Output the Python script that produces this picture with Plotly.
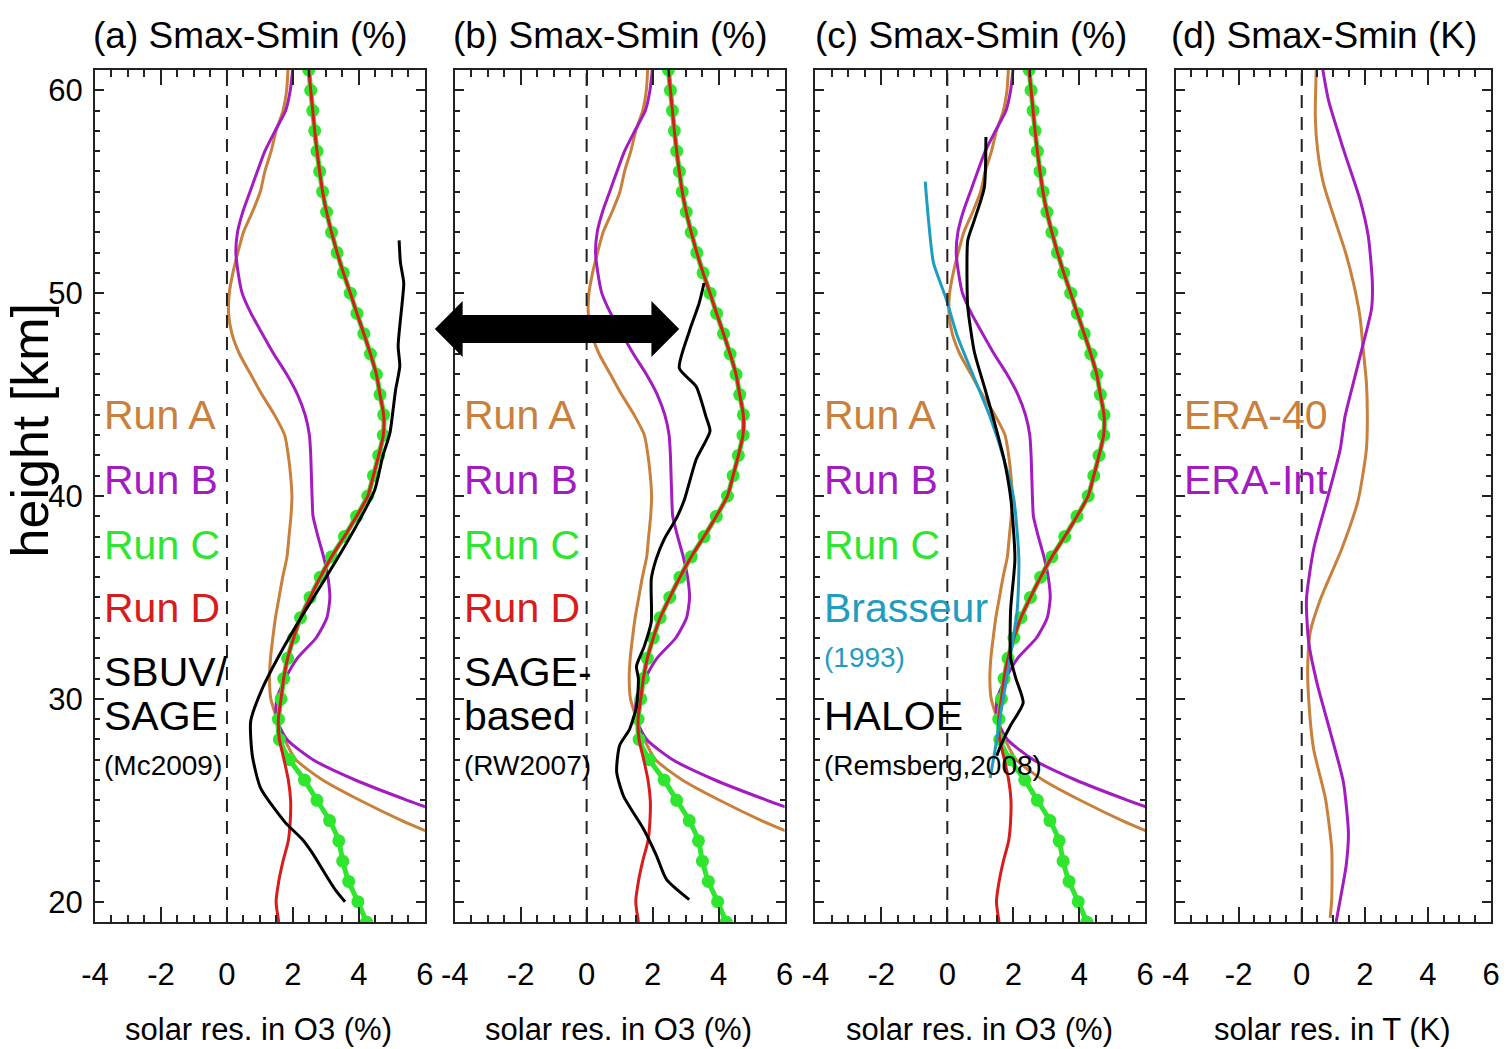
import plotly.graph_objects as go

# ---------------- data ----------------
# model heights (km) for the four model runs
run_heights = list(range(61, 18, -1))  # 61 ... 19

run_a = [1.85, 1.81, 1.70, 1.49, 1.34, 1.15, 1.01, 0.77, 0.50, 0.33,
         0.18, 0.07, 0.05, 0.15, 0.38, 0.72, 1.06, 1.44, 1.75, 1.86,
         1.93, 1.97, 1.94, 1.88, 1.82, 1.69, 1.58, 1.47, 1.39, 1.32,
         1.29, 1.33, 1.52, 1.75, 2.09, 2.90, 4.03, 5.30, 6.75, None,
         None, None, None]
run_b = [1.99, 1.92, 1.78, 1.46, 1.15, 0.92, 0.70, 0.48, 0.32, 0.27,
         0.34, 0.46, 0.73, 1.07, 1.42, 1.81, 2.14, 2.37, 2.50, 2.54,
         2.56, 2.58, 2.61, 2.76, 2.93, 3.06, 3.12, 3.03, 2.70, 2.13,
         1.77, 1.51, 1.50, 1.82, 2.61, 3.89, 5.47, 7.20, None, None,
         None, None, None]
run_c = [2.48, 2.54, 2.60, 2.66, 2.73, 2.81, 2.90, 3.02, 3.17, 3.34,
         3.53, 3.74, 3.94, 4.15, 4.35, 4.53, 4.64, 4.75, 4.74, 4.60,
         4.44, 4.27, 3.93, 3.56, 3.17, 2.83, 2.52, 2.23, 2.02, 1.84,
         1.72, 1.64, 1.56, 1.59, 1.90, 2.35, 2.73, 3.11, 3.39, 3.51,
         3.69, 3.97, 4.23]
run_d = [2.48, 2.54, 2.60, 2.66, 2.73, 2.81, 2.90, 3.02, 3.17, 3.34,
         3.53, 3.74, 3.94, 4.15, 4.35, 4.53, 4.64, 4.75, 4.74, 4.60,
         4.44, 4.27, 3.93, 3.56, 3.17, 2.83, 2.52, 2.23, 2.02, 1.84,
         1.72, 1.64, 1.56, 1.59, 1.73, 1.86, 1.93, 1.92, 1.86, 1.70,
         1.57, 1.49, 1.57]

# SBUV/SAGE (McCormack 2009)
sbuv_h = [52.6, 51.5, 50.5, 49.5, 47.4, 46.4, 45.2, 44.3, 43.1, 42.0,
          40.3, 38.7, 37.0, 35.4, 33.8, 32.1, 30.5, 28.9, 27.2, 25.6,
          23.9, 23.1, 22.3, 21.5, 20.6, 20.0]
sbuv_x = [5.22, 5.26, 5.36, 5.31, 5.19, 5.24, 5.11, 5.04, 4.94, 4.73,
          4.48, 3.98, 3.38, 2.78, 2.17, 1.57, 1.07, 0.72, 0.77, 1.02,
          1.77, 2.27, 2.63, 2.93, 3.28, 3.58]

# SAGE-based (RW2007)
sage_h = [50.5, 49.5, 48.1, 46.3, 45.4, 43.9, 43.2, 41.8, 39.8, 38.9,
          37.9, 36.9, 35.9, 33.8, 32.6, 31.6, 31.0, 29.6, 28.5, 27.7,
          26.4, 25.2, 23.6, 22.3, 21.1, 20.1]
sage_x = [3.56, 3.41, 3.11, 2.81, 3.32, 3.62, 3.74, 3.32, 2.96, 2.72,
          2.36, 2.11, 1.96, 1.96, 1.75, 1.51, 1.57, 1.51, 1.30, 1.00,
          0.91, 1.12, 1.72, 2.11, 2.42, 3.11]

# Brasseur (1993)
bras_h = [55.5, 53.6, 51.5, 49.7, 47.9, 46.2, 43.8, 41.8, 39.8, 36.9,
          34.4, 32.0, 29.5, 27.7, 26.1]
bras_x = [-0.67, -0.57, -0.42, -0.03, 0.30, 0.72, 1.32, 1.72, 2.02, 2.17,
          2.12, 1.90, 1.64, 1.47, 1.30]

# HALOE (Remsberg, 2008)
haloe_h = [57.7, 55.2, 53.6, 52.6, 50.3, 49.3, 47.1, 45.4, 43.8, 41.8,
           39.8, 36.9, 34.4, 32.0, 31.0, 29.8, 28.7, 27.7, 27.2]
haloe_x = [1.17, 1.12, 0.82, 0.62, 0.60, 0.62, 0.82, 1.12, 1.40, 1.72,
           1.93, 2.05, 1.92, 1.92, 2.08, 2.30, 1.92, 1.62, 1.50]

# temperature response (K)
era40_h = [61.0, 58.7, 57.1, 55.4, 53.8, 52.1, 50.5, 48.8, 47.2, 45.6,
           43.9, 42.3, 39.8, 37.4, 34.9, 33.3, 31.6, 30.0, 27.5, 25.1,
           22.6, 20.1, 19.2]
era40_x = [0.46, 0.43, 0.50, 0.69, 1.01, 1.37, 1.64, 1.85, 1.95, 2.05,
           2.08, 2.05, 1.79, 1.27, 0.59, 0.27, 0.19, 0.22, 0.38, 0.75,
           0.95, 0.95, 0.90]
eraint_h = [61.0, 59.5, 57.1, 54.6, 52.8, 50.5, 49.2, 47.2, 45.6, 43.9,
            42.3, 39.8, 37.4, 34.9, 32.8, 30.8, 28.4, 25.9, 23.4, 21.8,
            20.1, 19.0]
eraint_x = [0.67, 0.85, 1.32, 1.85, 2.11, 2.24, 2.21, 1.90, 1.64, 1.37,
            1.22, 0.80, 0.38, 0.15, 0.22, 0.48, 0.90, 1.32, 1.48, 1.41,
            1.22, 1.09]

x_ticks = [-4, -2, 0, 2, 4, 6]
x_tick_text = ["-4", "-2", "0", "2", "4", "6"]
y_ticks = [20, 30, 40, 50, 60]
titles = ["(a) Smax-Smin (%)", "(b) Smax-Smin (%)",
          "(c) Smax-Smin (%)", "(d) Smax-Smin (K)"]
x_titles = ["solar res. in O3 (%)", "solar res. in O3 (%)",
            "solar res. in O3 (%)", "solar res. in T (K)"]

# ---------------- styling ----------------
C_A = "#c8803c"
C_B = "#a31cc0"
C_C = "#2ee62e"
C_D = "#d81c1c"
C_BRAS = "#1f9dbf"
C_OBS = "#000000"

FONT = "Liberation Sans, Arial, Helvetica, sans-serif"

W, H = 1511, 1049
LEFT, RIGHT, TOP, BOTTOM = 95, 1500, 70, 922
panels_px = [(95, 427), (457, 789), (820, 1152), (1182.5, 1500)]


def px_x(px):
    return (px - LEFT) / (RIGHT - LEFT)


def px_y(py):
    return (BOTTOM - py) / (BOTTOM - TOP)


fig = go.Figure()


def add_line(x, y, panel, color, width=3, **kw):
    sfx = "" if panel == 1 else str(panel)
    fig.add_trace(go.Scatter(
        x=x, y=y, mode=kw.pop("mode", "lines"),
        line=dict(color=color, width=width, shape="spline", smoothing=0.6),
        xaxis="x" + sfx, yaxis="y" + sfx, showlegend=False,
        hoverinfo="skip", connectgaps=False, **kw))


for p in (1, 2, 3):
    add_line(run_a, run_heights, p, C_A)
    add_line(run_b, run_heights, p, C_B)
    add_line(run_c, run_heights, p, C_C, width=5, mode="lines+markers",
             marker=dict(color=C_C, size=13))
    add_line(run_d, run_heights, p, C_D)

add_line(sbuv_x, sbuv_h, 1, C_OBS)
add_line(sage_x, sage_h, 2, C_OBS)
add_line(bras_x, bras_h, 3, C_BRAS)
add_line(haloe_x, haloe_h, 3, C_OBS)
add_line(era40_x, era40_h, 4, C_A)
add_line(eraint_x, eraint_h, 4, C_B)

axis_common = dict(
    showline=True, linecolor="#222", linewidth=2, mirror="allticks",
    ticks="inside", showgrid=False, zeroline=False, tickcolor="#222",
)

for i, (x0, x1) in enumerate(panels_px, start=1):
    sfx = "" if i == 1 else str(i)
    fig.update_layout({
        "xaxis" + sfx: dict(
            axis_common, domain=[px_x(x0), px_x(x1)], range=[-4, 6],
            tickvals=x_ticks, ticktext=x_tick_text, ticklen=15, tickwidth=2,
            minor=dict(dtick=0.5, ticklen=7, tickwidth=1.5, ticks="inside",
                       tickcolor="#222"),
            tickfont=dict(family=FONT, size=31, color="black"),
            ticklabelstandoff=24, anchor="y" + sfx),
        "yaxis" + sfx: dict(
            axis_common, domain=[0, 1], range=[19, 61], tickvals=y_ticks,
            ticklen=9, tickwidth=2,
            minor=dict(dtick=1, ticklen=5, tickwidth=1.5, ticks="inside",
                       tickcolor="#222"),
            showticklabels=(i == 1),
            tickfont=dict(family=FONT, size=31, color="black"),
            ticklabelstandoff=4, anchor="x" + sfx),
    })
    # dashed zero line
    fig.add_shape(type="line", xref="x" + sfx, yref="y" + sfx + " domain",
                  x0=0, x1=0, y0=0, y1=1,
                  line=dict(color="#222", width=2, dash="13px,9px"))

annotations = []
for i, (x0, x1) in enumerate(panels_px):
    cx = (x0 + x1) / 2
    annotations.append(dict(text=titles[i], x=px_x(cx - 9), y=px_y(35),
                            xref="paper", yref="paper", showarrow=False,
                            xanchor="center", yanchor="middle",
                            font=dict(family=FONT, size=37, color="black")))
    annotations.append(dict(text=x_titles[i], x=px_x(cx - 1), y=px_y(1029),
                            xref="paper", yref="paper", showarrow=False,
                            xanchor="center", yanchor="middle",
                            font=dict(family=FONT, size=31, color="black")))

annotations.append(dict(text="height [km]", x=px_x(30), y=px_y(430),
                        xref="paper", yref="paper", showarrow=False,
                        textangle=-90, xanchor="center", yanchor="middle",
                        font=dict(family=FONT, size=52, color="black")))

BIG, SMALL = 41, 28
labels = {
    0: [("Run A", 415, C_A, BIG), ("Run B", 480, C_B, BIG),
        ("Run C", 545, C_C, BIG), ("Run D", 608, C_D, BIG),
        ("SBUV/", 672, C_OBS, BIG), ("SAGE", 716, C_OBS, BIG),
        ("(Mc2009)", 765, C_OBS, SMALL)],
    1: [("Run A", 415, C_A, BIG), ("Run B", 480, C_B, BIG),
        ("Run C", 545, C_C, BIG), ("Run D", 608, C_D, BIG),
        ("SAGE-", 672, C_OBS, BIG), ("based", 716, C_OBS, BIG),
        ("(RW2007)", 765, C_OBS, SMALL)],
    2: [("Run A", 415, C_A, BIG), ("Run B", 480, C_B, BIG),
        ("Run C", 545, C_C, BIG), ("Brasseur", 608, C_BRAS, BIG),
        ("(1993)", 657, C_BRAS, SMALL), ("HALOE", 716, C_OBS, BIG),
        ("(Remsberg,2008)", 765, C_OBS, SMALL)],
    3: [("ERA-40", 415, C_A, BIG), ("ERA-Int", 480, C_B, BIG)],
}
for i, items in labels.items():
    x0 = panels_px[i][0] + 7
    for text, py, color, size in items:
        annotations.append(dict(text=text, x=px_x(x0), y=px_y(py),
                                xref="paper", yref="paper", showarrow=False,
                                xanchor="left", yanchor="middle",
                                font=dict(family=FONT, size=size, color=color)))

# double-headed arrow spanning panels (a) and (b)
ax = [437, 465, 655, 683]
ay_mid, ay_shaft, ay_head = 329, 14, 28
pts = [(ax[0], ay_mid), (ax[1], ay_mid - ay_head), (ax[1], ay_mid - ay_shaft),
       (ax[2], ay_mid - ay_shaft), (ax[2], ay_mid - ay_head), (ax[3], ay_mid),
       (ax[2], ay_mid + ay_head), (ax[2], ay_mid + ay_shaft),
       (ax[1], ay_mid + ay_shaft), (ax[1], ay_mid + ay_head)]
path = "M " + " L ".join(f"{px_x(a):.5f},{px_y(b):.5f}" for a, b in pts) + " Z"
fig.add_shape(type="path", xref="paper", yref="paper", path=path,
              fillcolor="black", line=dict(color="black", width=0))

fig.update_layout(
    width=W, height=H, paper_bgcolor="white", plot_bgcolor="white",
    margin=dict(l=LEFT, r=W - RIGHT, t=TOP, b=H - BOTTOM),
    annotations=annotations, showlegend=False,
)

fig.write_html("out.html")
